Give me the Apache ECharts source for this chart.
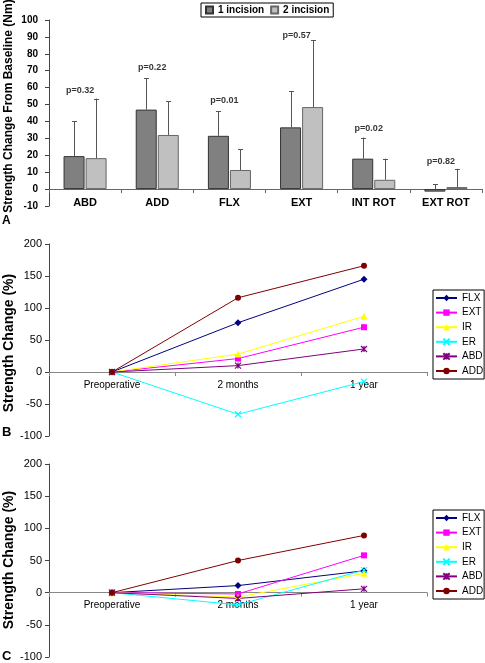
<!DOCTYPE html>
<html>
<head>
<meta charset="utf-8">
<script src="https://cdn.jsdelivr.net/npm/echarts@6/dist/echarts.min.js"></script>
<style>html,body{margin:0;padding:0;background:#fff}#c{width:485px;height:663px}</style>
</head>
<body>
<div id="c"></div>
<script>
// ---- Panel A data ----
const barCats = ['ABD', 'ADD', 'FLX', 'EXT', 'INT ROT', 'EXT ROT'];
const oneIncision = [19.5, 47, 31.5, 36.5, 18, -1.5];
const twoIncision = [18.3, 32, 11.3, 48.5, 5.5, 1.2];
const oneIncisionErr = [40, 65.5, 46, 57.8, 30.5, 3];
const twoIncisionErr = [53.5, 52, 23.5, 88, 18, 12];
const pValues = ['p=0.32', 'p=0.22', 'p=0.01', 'p=0.57', 'p=0.02', 'p=0.82'];
const pLabelY = [58.5, 72, 52.5, 91, 36, 16.3];
const yTicksA = { min: -10, max: 100, interval: 10 };

// ---- Panels B and C data ----
const timeCats = ['Preoperative', '2 months', '1 year'];
const seriesNames = ['FLX', 'EXT', 'IR', 'ER', 'ABD', 'ADD'];
const flxB = [0, 77, 145];
const extB = [0, 21, 70];
const irB = [0, 28, 87];
const erB = [0, -66, -15];
const abdB = [0, 10, 36];
const addB = [0, 116, 166];
const flxC = [0, 11, 34];
const extC = [0, -2, 58];
const irC = [0, -7, 30];
const erC = [0, -19, 35];
const abdC = [0, -9, 6];
const addC = [0, 50, 89];
const yTicksPct = { min: -100, max: 200, interval: 50 };

const lineColors = ['#000080', '#ff00ff', '#ffff00', '#00ffff', '#800080', '#800000'];
const lineSymbols = ['diamond', 'rect', 'triangle',
  'path://M0,0L10,10M10,0L0,10',
  'path://M0,0L10,10M10,0L0,10M5,0L5,10',
  'circle'];
const lineSymbolSizes = [7, 6, 7, 6, 6, 6];

const chart = echarts.init(document.getElementById('c'), null, { renderer: 'canvas' });
const FONT = 'Liberation Sans, Arial, sans-serif';
const BAR_W = 21;

const grids = [
  { left: 49, right: 3, top: 20, height: 186, outerBoundsMode: 'none' },
  { left: 49, width: 378, top: 244, height: 192, outerBoundsMode: 'none' },
  { left: 49, width: 378, top: 464, height: 193, outerBoundsMode: 'none' }
];
// offset that lifts a bottom x axis up to the value-0 line of its grid
function zeroOffset(g, t) { return -g.height * (0 - t.min) / (t.max - t.min); }

function errSeries(name, vals, errs, dx, xIdx, yIdx) {
  return {
    type: 'custom', name: name + ' err', xAxisIndex: xIdx, yAxisIndex: yIdx, z: 3,
    silent: true,
    data: vals.map((v, i) => [i, v, errs[i]]),
    encode: { x: 0, y: [1, 2] },
    renderItem: function (params, api) {
      const p0 = api.coord([api.value(0), Math.max(api.value(1), 0)]);
      const p1 = api.coord([api.value(0), api.value(2)]);
      const x = Math.round(p0[0] + dx) + 0.5;
      const st = { stroke: '#555', lineWidth: 1 };
      return {
        type: 'group', children: [
          { type: 'line', shape: { x1: x, y1: p0[1], x2: x, y2: p1[1] }, style: st },
          { type: 'line', shape: { x1: x - 2.5, y1: Math.round(p1[1]) + 0.5, x2: x + 2.5, y2: Math.round(p1[1]) + 0.5 }, style: st }
        ]
      };
    }
  };
}

function lineSeries(dataArr, xIdx, yIdx) {
  return seriesNames.map((n, k) => ({
    type: 'line', name: n, xAxisIndex: xIdx, yAxisIndex: yIdx,
    data: dataArr[k],
    symbol: lineSymbols[k], symbolSize: lineSymbolSizes[k],
    lineStyle: { color: lineColors[k], width: 1 },
    itemStyle: { color: lineColors[k], borderColor: lineColors[k], borderWidth: (k === 3 || k === 4) ? 1.2 : 0 },
    emphasis: { disabled: true },
    animation: false
  }));
}

function pctYAxis(gridIndex) {
  return {
    type: 'value', gridIndex: gridIndex, min: yTicksPct.min, max: yTicksPct.max, interval: yTicksPct.interval,
    splitLine: { show: false },
    axisLine: { show: true, lineStyle: { color: '#444' } },
    axisTick: { show: true, length: 4, lineStyle: { color: '#444' } },
    axisLabel: { color: '#000', fontSize: 11, fontFamily: FONT, margin: 7 }
  };
}
function timeXAxis(gridIndex) {
  return {
    type: 'category', gridIndex: gridIndex, data: timeCats, boundaryGap: true,
    offset: zeroOffset(grids[gridIndex], yTicksPct),
    axisLine: { show: true, onZero: false, lineStyle: { color: '#888' } },
    axisTick: { show: true, length: 4, lineStyle: { color: '#888' } },
    axisLabel: { color: '#000', fontSize: 10, fontFamily: FONT, margin: 8 }
  };
}
function lineLegend(top) {
  return {
    orient: 'vertical', left: 433, top: top, data: seriesNames.slice(),
    itemWidth: 21, itemHeight: 8, itemGap: 4.6,
    padding: [3, 1, 3, 2],
    borderColor: '#000', borderWidth: 1, backgroundColor: '#fff',
    textStyle: { fontSize: 10, fontFamily: FONT, color: '#000' }
  };
}
function vTitle(text, x, y, font) {
  return {
    type: 'text', x: x, y: y, rotation: Math.PI / 2,
    style: { text: text, font: font, fill: '#000', align: 'center', verticalAlign: 'middle' }
  };
}

const option = {
  animation: false,
  grid: grids,
  legend: [
    {
      left: 201, top: 3, data: ['1 incision', '2 incision'],
      icon: 'rect', itemWidth: 7, itemHeight: 7, itemGap: 6,
      padding: [2, 4, 2, 4], borderColor: '#000', borderWidth: 1,
      textStyle: { fontSize: 10, fontWeight: 'bold', fontFamily: FONT, color: '#000' }
    },
    lineLegend(290),
    lineLegend(510)
  ],
  xAxis: [
    {
      type: 'category', gridIndex: 0, data: barCats,
      offset: zeroOffset(grids[0], yTicksA),
      axisLine: { show: true, onZero: false, lineStyle: { color: '#666' } },
      axisTick: { show: true, length: 4, lineStyle: { color: '#666' } },
      axisLabel: { color: '#000', fontSize: 11, fontWeight: 'bold', fontFamily: FONT, margin: 8 }
    },
    timeXAxis(1),
    timeXAxis(2)
  ],
  yAxis: [
    {
      type: 'value', gridIndex: 0, min: yTicksA.min, max: yTicksA.max, interval: yTicksA.interval,
      splitLine: { show: false },
      axisLine: { show: true, lineStyle: { color: '#444' } },
      axisTick: { show: true, length: 4, lineStyle: { color: '#444' } },
      axisLabel: { color: '#000', fontSize: 10, fontWeight: 'bold', fontFamily: FONT, margin: 11 }
    },
    pctYAxis(1),
    pctYAxis(2)
  ],
  series: [
    {
      type: 'bar', name: '1 incision', xAxisIndex: 0, yAxisIndex: 0, data: oneIncision,
      barWidth: BAR_W, barGap: '5%',
      itemStyle: { color: '#808080', borderColor: '#333', borderWidth: 1 }
    },
    {
      type: 'bar', name: '2 incision', xAxisIndex: 0, yAxisIndex: 0, data: twoIncision,
      barWidth: BAR_W, barGap: '5%',
      itemStyle: { color: '#c0c0c0', borderColor: '#666', borderWidth: 1 }
    },
    errSeries('1 incision', oneIncision, oneIncisionErr, -11, 0, 0),
    errSeries('2 incision', twoIncision, twoIncisionErr, 11, 0, 0),
    {
      type: 'scatter', name: 'p', xAxisIndex: 0, yAxisIndex: 0, symbolSize: 0, silent: true,
      data: pLabelY.map((y, i) => [i, y]),
      label: {
        show: true, position: 'inside', offset: [-5, 0],
        formatter: p => pValues[p.dataIndex],
        fontSize: 9, fontWeight: 'bold', fontFamily: FONT, color: '#000'
      }
    },
    ...lineSeries([flxB, extB, irB, erB, abdB, addB], 1, 1),
    ...lineSeries([flxC, extC, irC, erC, abdC, addC], 2, 2)
  ],
  graphic: [
    vTitle('Strength Change From Baseline (Nm)', 9, 106, 'bold 12px ' + FONT),
    vTitle('Strength Change (%)', 9, 343, 'bold 14px ' + FONT),
    vTitle('Strength Change (%)', 9, 560, 'bold 14px ' + FONT),
    { type: 'text', left: 2, top: 215, style: { text: 'A', font: 'bold 12px ' + FONT, fill: '#000' } },
    { type: 'text', left: 2, top: 426, style: { text: 'B', font: 'bold 13px ' + FONT, fill: '#000' } },
    { type: 'text', left: 2, top: 650, style: { text: 'C', font: 'bold 13px ' + FONT, fill: '#000' } }
  ]
};
chart.setOption(option);
</script>
</body>
</html>
